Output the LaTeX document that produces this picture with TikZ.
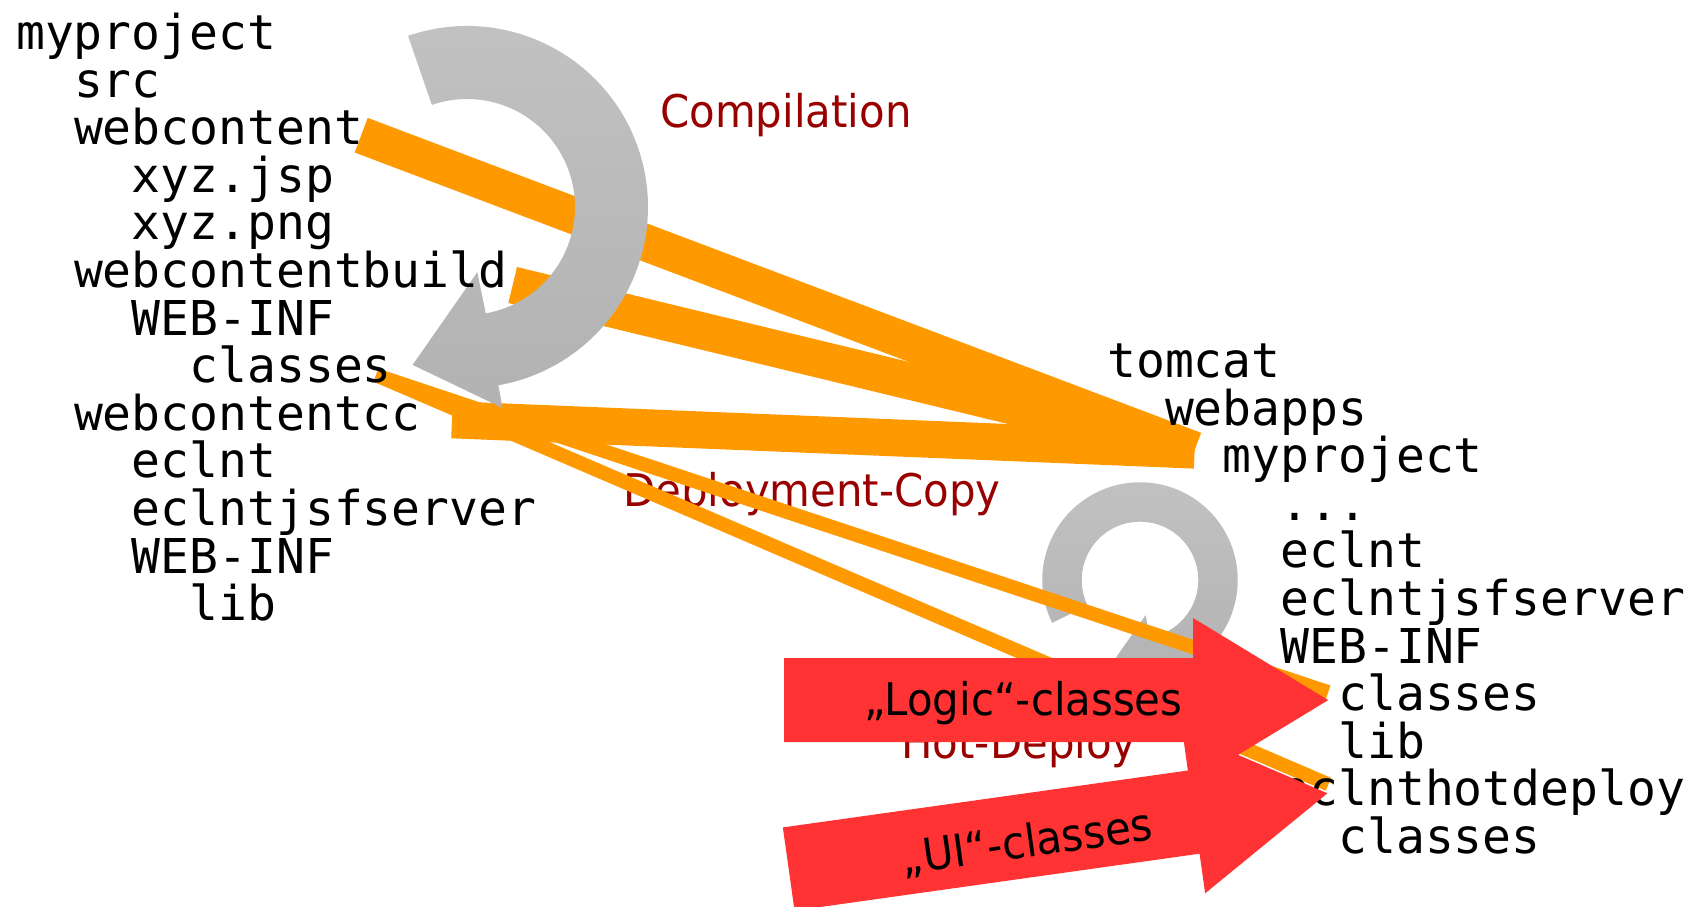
\documentclass[tikz,border=0pt]{standalone}
\usepackage{fontspec}
\setmonofont{DejaVu Sans Mono}
\newfontfamily\stagefam[FakeStretch=0.93]{DejaVu Sans}
\newcommand\treefont{\ttfamily\fontsize{48}{48}\selectfont}
\newcommand\stagefont{\stagefam\fontsize{45}{45}\selectfont}
\usetikzlibrary{calc,backgrounds}
\definecolor{copyorange}{HTML}{FF9900}
\definecolor{hotred}{HTML}{FF3333}
\definecolor{stagered}{HTML}{990000}
\definecolor{ringtop}{HTML}{C2C2C2}
\definecolor{ringbot}{HTML}{B2B2B2}
\tikzset{
  dir/.style={font=\treefont, anchor=base west, inner sep=0pt, text height=35pt, text depth=10pt},
  stage/.style={font=\stagefont, text=stagered, anchor=base, inner sep=0pt},
  tag/.style={font=\stagefont, text=black, anchor=base, inner sep=0pt},
  band/.style={draw=copyorange, line width=37pt},
  thinband/.style={draw=copyorange, line width=14pt},
  ringarrow/.pic={
    \path[top color=ringtop, bottom color=ringbot] (#1:181) arc[start angle=#1, end angle=-80, radius=181]
      -- (-80:204) -- (-109:167) -- (-81:66) -- (-80:108)
      arc[start angle=-80, end angle=#1, radius=108] -- cycle;
  },
  fatarrow/.pic={
    \fill[hotred] (0,0) -- (-135,82) -- (-135,42) -- (-544,42) -- (-544,-42) -- (-135,-42) -- (-135,-82) -- cycle;
  },
}

\begin{document}
\begin{tikzpicture}[x=1pt, y=1pt]
    \useasboundingbox (0,0) rectangle (1698,-906);
    % project tree
    \node[dir] (pmy) at (16,-49.5) {myproject};
    \node[dir] (psrc) at (73.8,-97.1) {src};
    \node[dir] (pwc) at (73.8,-144.7) {webcontent};
    \node[dir] (pjsp) at (131.6,-192.3) {xyz.jsp};
    \node[dir] (ppng) at (131.6,-239.9) {xyz.png};
    \node[dir] (pwcb) at (73.8,-287.5) {webcontentbuild};
    \node[dir] (pwinf) at (131.6,-335.1) {WEB-INF};
    \node[dir] (pcls) at (189.4,-382.7) {classes};
    \node[dir] (pwcc) at (73.8,-430.3) {webcontentcc};
    \node[dir] (pecl) at (131.6,-477.9) {eclnt};
    \node[dir] (pjsf) at (131.6,-525.5) {eclntjsfserver};
    \node[dir] (pinf) at (131.6,-573.1) {WEB-INF};
    \node[dir] (plib) at (189.4,-620.7) {lib};
    % tomcat tree
    \node[dir] (tomcat) at (1107,-377.4) {tomcat};
    \node[dir] (webapps) at (1164.8,-425) {webapps};
    \node[dir] (tmy) at (1222.6,-472.6) {myproject};
    \node[dir] (tdots) at (1280.4,-520.2) {...};
    \node[dir] (tecl) at (1280.4,-567.8) {eclnt};
    \node[dir] (tjsf) at (1280.4,-615.4) {eclntjsfserver};
    \node[dir] (tinf) at (1280.4,-663) {WEB-INF};
    \node[dir] (tcls) at (1338.2,-710.6) {classes};
    \node[dir] (tlib) at (1338.2,-758.2) {lib};
    \node[dir] (thot) at (1280.4,-805.8) {eclnthotdeploy};
    \node[dir] (thcls) at (1338.2,-853.4) {classes};
    \coordinate (hub) at ($(tmy.west)+(-28,10)$);
    \begin{scope}[on background layer]
      \fill[white] (0,0) rectangle (1698,-906);
      % steps
      \node[stage] (comp) at (786,-127) {Compilation};
      \node[stage] (dcopy) at (812,-506) {Deployment-Copy};
      \node[stage] (hdep) at (1019,-758) {Hot-Deploy};
      \pic[scale=0.54] at (1140,-580) {ringarrow=206};
      % copies
      \draw[band] ($(pwc.east)+(-2,-3)$) -- (hub);
      \draw[band] ($(pwcb.east)+(5,-10)$) -- (hub);
      \draw[band] ($(pwcc.east)+(31,-2)$) -- (hub);
      \draw[thinband] ($(pcls.east)+(-16,-5)$) -- ($(tcls.west)+(-10,6)$);
      \draw[thinband] ($(pcls.east)+(-16,-5)$) -- ($(thot.west)+(48,9)$);
      \pic at (467,-207) {ringarrow=109};
    \end{scope}
    % hot deploy
    \pic at ($(tcls.west)+(-10,-2)$) {fatarrow};
    \pic[rotate=8] at ($(thot.west)+(47,0)$) {fatarrow};
    \node[tag] (logic) at (1023.5,-715) {„Logic“-classes};
    \node[tag, rotate=8] (ui) at (1029,-857) {„UI“-classes};
\end{tikzpicture}
\end{document}
